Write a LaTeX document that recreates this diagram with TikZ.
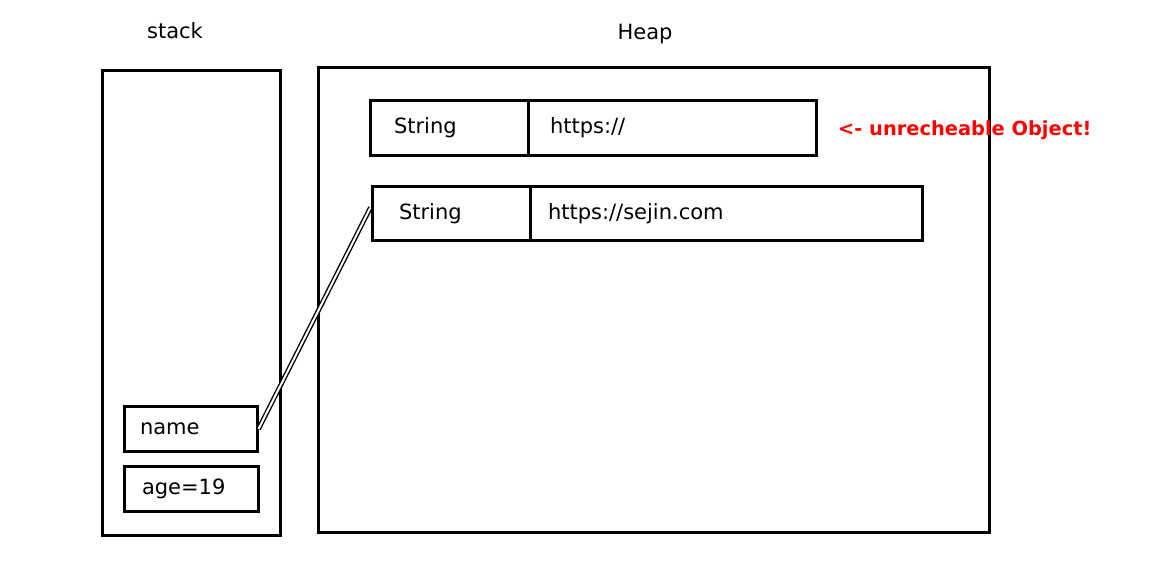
\documentclass[tikz,border=0pt]{standalone}
\usepackage{fontspec}
\setmainfont{DejaVu Sans}
\usepackage{tikz}
\usetikzlibrary{arrows.meta, positioning, calc}
\tikzset{
    every picture/.style={
        font=\fontsize{10.5pt}{12.5pt}\selectfont,
        line width=1.5pt
    },
    % frames and cells
    frame/.style={rectangle,draw=black,line width=1.5pt,inner sep=0pt},
    cell/.style={rectangle,draw=black,line width=1.5pt,inner ysep=0pt,align=left},
    % reference link
    ref/.style={double=white,draw=black,line width=0.7pt,double distance=1pt}
}

\begin{document}
\begin{tikzpicture}[x=0.5pt, y=-0.5pt]
    \useasboundingbox (0,0) rectangle (1153,582);

    % Titles
    \node (stacktitle) at (175,31) {stack};
    \node (heaptitle) at (645,34) {Heap};

    % Memory areas
    \node[frame, minimum width=89pt, minimum height=232.5pt] (stack) at (191,303) {};
    \node[frame, minimum width=335.5pt, minimum height=232.5pt] (heap) at (653.5,300) {};

    % Heap objects
    \node[cell, minimum height=27.5pt, text width=55pt, inner xsep=12pt] (str1key) at (449,128) {String};
    \node[cell, minimum height=27.5pt, text width=122pt, inner xsep=11pt] (str1val) at (672,128) {https://};
    \node[cell, minimum height=27pt, text width=52pt, inner xsep=13.5pt] (str2key) at (451,213.5) {String};
    \node[cell, minimum height=27pt, text width=178pt, inner xsep=9pt] (str2val) at (726,213.5) {https://sejin.com};

    % Stack variables
    \node[cell, minimum height=22.5pt, text width=50.5pt, inner xsep=8pt] (name) at (190.5,429) {name};
    \node[cell, minimum height=22.5pt, text width=49pt, inner xsep=9pt] (age) at (191,489) {age=19};

    % Reference
    \draw[ref] (name.east) -- ([yshift=3pt]str2key.west);

    % Note
    \node[anchor=west, text=red, font=\fontsize{9.7pt}{11pt}\selectfont\bfseries] (note) at (830,130) {<- unrecheable Object!};
\end{tikzpicture}
\end{document}
